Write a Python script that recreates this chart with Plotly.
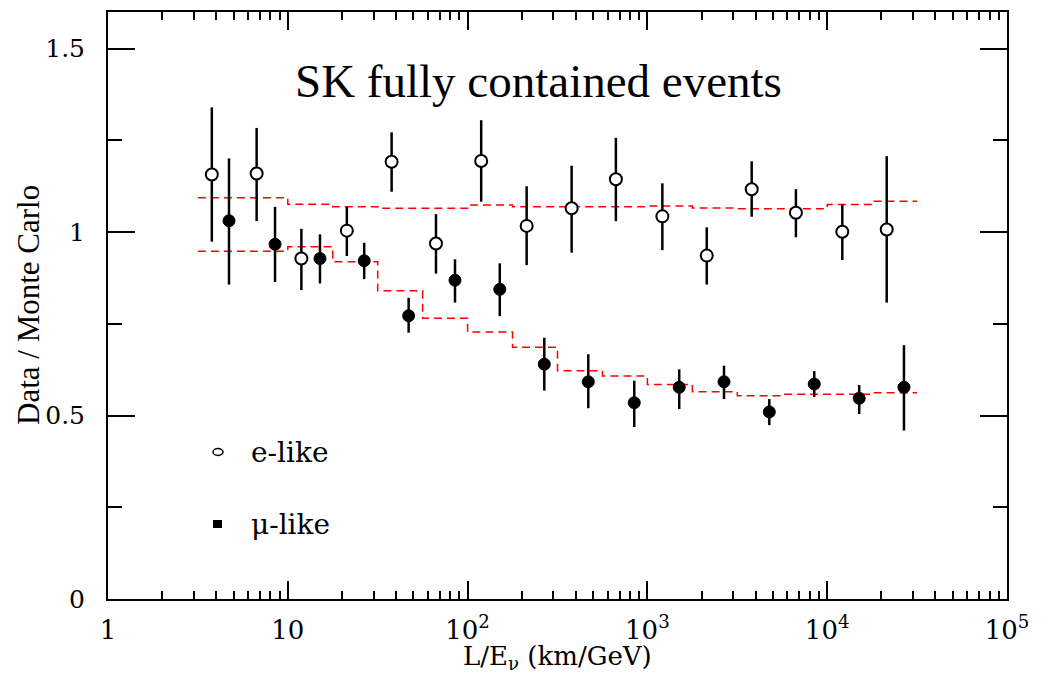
import plotly.graph_objects as go

# ---- data ----
e_x = [3.78, 6.71, 11.9, 21.3, 37.8, 66.7, 119, 213, 379, 668, 1211, 2138, 3802, 6699, 12134, 21428]
e_y = [1.157, 1.160, 0.928, 1.004, 1.192, 0.969, 1.194, 1.017, 1.065, 1.144, 1.043, 0.936, 1.117, 1.053, 1.001, 1.007]
e_hi = [1.340, 1.284, 1.009, 1.069, 1.272, 1.049, 1.305, 1.125, 1.181, 1.257, 1.133, 1.013, 1.193, 1.117, 1.075, 1.207]
e_lo = [0.974, 1.030, 0.842, 0.935, 1.110, 0.887, 1.083, 0.910, 0.944, 1.030, 0.951, 0.857, 1.042, 0.986, 0.924, 0.808]

mu_x = [4.71, 8.49, 15.1, 26.6, 47.0, 85.1, 151, 267, 469, 845, 1503, 2667, 4764, 8472, 15066, 26730]
mu_y = [1.031, 0.967, 0.928, 0.922, 0.772, 0.869, 0.844, 0.640, 0.592, 0.535, 0.577, 0.592, 0.510, 0.586, 0.547, 0.577]
mu_hi = [1.201, 1.069, 0.994, 0.971, 0.821, 0.926, 0.915, 0.712, 0.667, 0.595, 0.626, 0.636, 0.545, 0.621, 0.583, 0.692]
mu_lo = [0.857, 0.864, 0.860, 0.872, 0.726, 0.808, 0.771, 0.568, 0.520, 0.469, 0.518, 0.545, 0.474, 0.551, 0.504, 0.459]

# MC expectation histograms (bin edges in log10 L/E)
mc_edges_log = [0.5 + 0.25 * i for i in range(17)]
e_mc = [1.094, 1.094, 1.076, 1.069, 1.065, 1.065, 1.074, 1.069, 1.069, 1.069, 1.071, 1.066, 1.064, 1.064, 1.075, 1.084]
mu_mc = [0.948, 0.948, 0.960, 0.919, 0.840, 0.765, 0.728, 0.686, 0.622, 0.608, 0.585, 0.565, 0.554, 0.558, 0.558, 0.562]

x_tickvals = [1, 10, 100, 1000, 10000, 100000]
x_ticktext = ["1", "10", "10<sup>2</sup>", "10<sup>3</sup>", "10<sup>4</sup>", "10<sup>5</sup>"]
y_tickvals = [0, 0.5, 1, 1.5]
y_ticktext = ["0", "0.5", "1", "1.5"]

edges = [10 ** v for v in mc_edges_log]

fig = go.Figure()
for vals in (e_mc, mu_mc):
    fig.add_trace(go.Scatter(
        x=edges, y=vals + [vals[-1]], mode="lines", line_shape="hv",
        line=dict(color="#ff0000", width=1.5, dash="8px,5px"),
        showlegend=False, hoverinfo="skip"))

fig.add_trace(go.Scatter(
    x=e_x, y=e_y, mode="markers",
    marker=dict(symbol="circle", size=12, color="white", line=dict(color="black", width=2)),
    error_y=dict(type="data", symmetric=False,
                 array=[h - v for h, v in zip(e_hi, e_y)],
                 arrayminus=[v - l for v, l in zip(e_y, e_lo)],
                 color="black", thickness=2.5, width=0),
    showlegend=False))
fig.add_trace(go.Scatter(
    x=mu_x, y=mu_y, mode="markers",
    marker=dict(symbol="circle", size=12, color="black", line=dict(color="black", width=1)),
    error_y=dict(type="data", symmetric=False,
                 array=[h - v for h, v in zip(mu_hi, mu_y)],
                 arrayminus=[v - l for v, l in zip(mu_y, mu_lo)],
                 color="black", thickness=2.5, width=0),
    showlegend=False))

minor_x = [m * 10 ** d for d in range(5) for m in range(2, 10)]

fig.update_xaxes(
    type="log", range=[0, 5], tickvals=x_tickvals, ticktext=x_ticktext,
    ticks="inside", ticklen=18, tickwidth=2, tickcolor="black",
    minor=dict(tickvals=minor_x, ticks="inside", ticklen=8, tickwidth=2, tickcolor="black"),
    showline=True, linecolor="black", linewidth=2, mirror="allticks",
    showgrid=False, zeroline=False,
    tickfont=dict(family="DejaVu Serif", size=26, color="black"),
    ticklabelstandoff=7)
fig.update_yaxes(
    range=[0, 1.6], tickvals=y_tickvals, ticktext=y_ticktext,
    ticks="inside", ticklen=27, tickwidth=2, tickcolor="black",
    minor=dict(dtick=0.25, ticks="inside", ticklen=14, tickwidth=2, tickcolor="black"),
    showline=True, linecolor="black", linewidth=2, mirror="allticks",
    showgrid=False, zeroline=False,
    tickfont=dict(family="DejaVu Serif", size=25, color="black"),
    ticklabelstandoff=16)

W, H = 1053, 678
L, R, T, B = 108, 46, 12, 79
pw, ph = W - L - R, H - T - B

def px(xp):
    return (xp - L) / pw

def py(yp):
    return (H - B - yp) / ph

annotations = [
    dict(text="SK fully contained events", x=px(538), y=py(81), xref="paper", yref="paper",
         showarrow=False, xanchor="center", yanchor="middle",
         font=dict(family="Liberation Serif", size=47, color="black")),
    dict(text="Data / Monte Carlo", x=px(28), y=py(305), xref="paper", yref="paper",
         showarrow=False, textangle=-90, xanchor="center", yanchor="middle",
         font=dict(family="Liberation Serif", size=31, color="black")),
    dict(text="L/E<sub>ν</sub> (km/GeV)", x=px(557), y=py(676), xref="paper", yref="paper",
         showarrow=False, xanchor="center", yanchor="bottom",
         font=dict(family="DejaVu Serif", size=26, color="black")),
    dict(text="e-like", x=px(249), y=py(452), xref="paper", yref="paper",
         showarrow=False, xanchor="left", yanchor="middle",
         font=dict(family="DejaVu Serif", size=28, color="black")),
    dict(text="μ-like", x=px(249), y=py(524), xref="paper", yref="paper",
         showarrow=False, xanchor="left", yanchor="middle",
         font=dict(family="DejaVu Serif", size=28, color="black")),
]

shapes = [
    dict(type="circle", xref="paper", yref="paper",
         x0=px(213), x1=px(223), y0=py(448.5), y1=py(455.5),
         line=dict(color="black", width=1.5), fillcolor="white"),
    dict(type="rect", xref="paper", yref="paper",
         x0=px(213), x1=px(222), y0=py(520), y1=py(528),
         line=dict(color="black", width=0), fillcolor="black"),
]

fig.update_layout(
    width=W, height=H, margin=dict(l=L, r=R, t=T, b=B, autoexpand=False),
    paper_bgcolor="white", plot_bgcolor="white",
    annotations=annotations, shapes=shapes, showlegend=False)

fig.write_html("out.html")
